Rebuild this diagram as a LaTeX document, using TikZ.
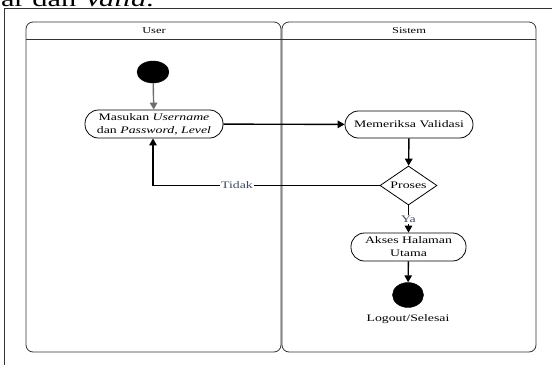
\documentclass[tikz,border=0pt]{standalone}
\usepackage{fontspec}
\setmainfont{Liberation Serif}
\usetikzlibrary{shapes.geometric,arrows.meta}
\newcommand\hstr[1]{\scalebox{1.38}[1]{#1}}
\definecolor{lanegray}{HTML}{333333}
\definecolor{startgray}{HTML}{6E6E6E}
\definecolor{lblblue}{HTML}{3D4B5E}
\begin{document}
\begin{tikzpicture}[x=1pt,y=-1pt,
  every node/.style={font=\fontsize{10}{13}\selectfont, inner sep=1pt},
  lane/.style={draw=lanegray, line width=0.8pt, rounded corners=7pt},
  act/.style={draw=black, line width=0.8pt, rounded corners=13.5pt, fill=white, align=center, inner sep=1pt},
  dot/.style={ellipse, fill=black, draw=black, inner sep=0pt},
  decide/.style={diamond, draw=black, line width=0.8pt, fill=white, inner sep=0pt, aspect=1.5, minimum width=57pt, minimum height=39pt},
  flow/.style={draw=black, line width=1.4pt, -{Triangle[length=7pt,width=7.5pt]}},
  lbl/.style={fill=white, text=lblblue, inner sep=1pt}
]
\useasboundingbox (0,0) rectangle (552,365);
% cropped caption text at the very top
\begin{scope}
\clip (0,0) rectangle (552,8.5);
\node[anchor=base west, inner sep=0pt] (caption) at (1,6.5) {\hstr{\fontsize{22}{22}\selectfont ar dan \textit{Valid}.}};
\end{scope}
% outer frame (top and left only)
\draw[line width=0.8pt, draw=lanegray] (552,8.5) -- (4,8.5) -- (4,365);
% swimlanes
\draw[lane] (26,22) rectangle (281,352);
\draw[lane] (282,22) rectangle (536,352);
\draw[draw=lanegray, line width=0.8pt] (26,39) -- (536,39);
\node[font=\fontsize{9}{10}\selectfont] (huser) at (154,30.5) {\hstr{User}};
\node[font=\fontsize{9}{10}\selectfont] (hsistem) at (409,30.5) {\hstr{Sistem}};
% nodes
\node[dot, minimum width=32pt, minimum height=22pt] (start) at (153,72) {};
\node[act, minimum width=138pt, minimum height=28pt] (masuk) at (154,124)
  {\hstr{\begin{tabular}{@{}c@{}}Masukan \textit{Username}\\ dan \textit{Password, Level}\end{tabular}}};
\node[act, minimum width=128pt, minimum height=27pt] (periksa) at (409,124.5) {\hstr{Memeriksa Validasi}};
\node[decide] (proses) at (408.5,185.5) {\hstr{Proses}};
\node[act, minimum width=115pt, minimum height=28pt] (akses) at (408.5,247)
  {\hstr{\begin{tabular}{@{}c@{}}Akses Halaman\\ Utama\end{tabular}}};
\node[dot, minimum width=31pt, minimum height=25pt] (end) at (408,295) {};
\node (logout) at (408,319) {\hstr{Logout/Selesai}};
% connectors
\draw[draw=startgray, line width=1.4pt, -{Triangle[length=7pt,width=7.5pt]}] (start) -- (masuk);
\draw[flow] (masuk) -- (periksa);
\draw[flow] (periksa) -- (proses);
\coordinate (tcorner) at (153,185.5);
\draw[flow] (proses.west) -- (tcorner) -- (masuk.south -| tcorner);
\node[lbl] (tidak) at (237,185.5) {\hstr{Tidak}};
\draw[flow] (proses.south) -- (akses.north);
\node[lbl] (ya) at (408.5,219.5) {\hstr{Ya}};
\draw[flow] (akses) -- (end);
\end{tikzpicture}
\end{document}
